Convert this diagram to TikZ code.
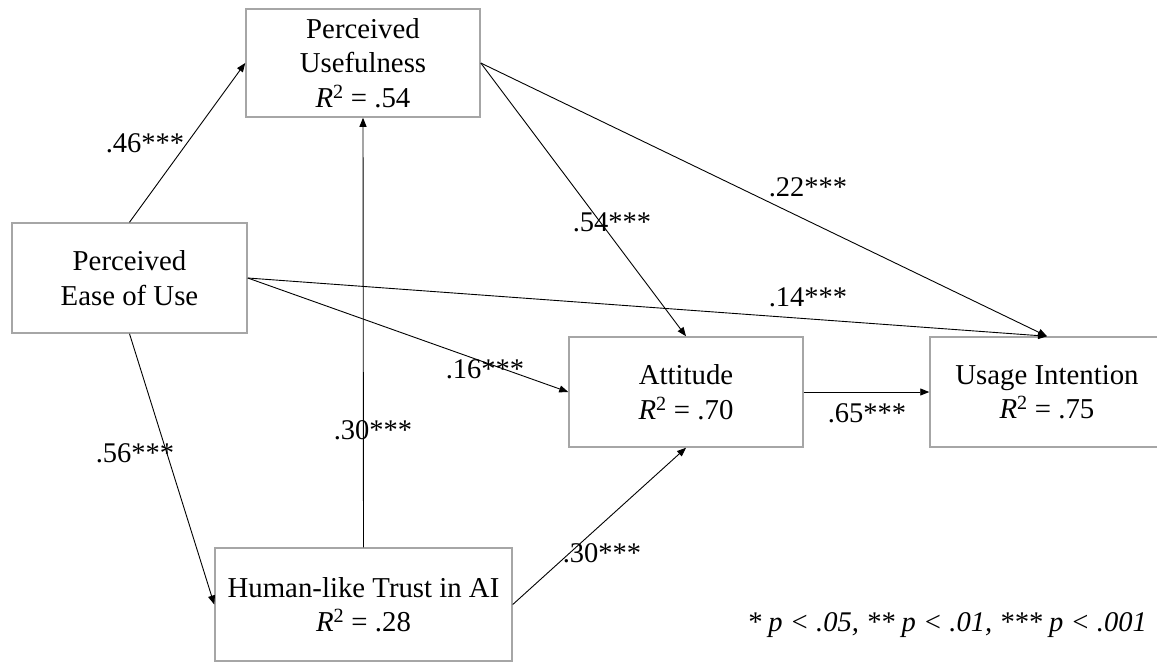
\documentclass[tikz,border=0pt]{standalone}
\usepackage{fontspec}
\setmainfont{Liberation Serif}
\usetikzlibrary{arrows.meta}
\definecolor{boxgray}{RGB}{166,166,166}
\tikzset{
  varbox/.style={draw=boxgray, line width=1.5pt, fill=white, inner sep=0pt, align=center,
    font=\fontsize{28.8}{34.5}\selectfont},
  path/.style={draw=black, line width=0.9pt, -{Triangle[length=9pt,width=7pt]}},
  coef/.style={font=\fontsize{28.5}{34}\selectfont, inner sep=0pt},
}
\newcommand{\rsq}[1]{\textit{R}\textsuperscript{2} = #1}
\begin{document}
\begin{tikzpicture}[x=1pt,y=-1pt]
\clip (0,0) rectangle (1157,662);
\fill[white] (0,0) rectangle (1157,662);
\node[varbox, minimum width=234pt, minimum height=108pt] (pu) at (363,63) {Perceived\\Usefulness\\\rsq{.54}};
\node[varbox, minimum width=235pt, minimum height=110pt] (peou) at (129.5,278) {Perceived\\Ease of Use};
\node[varbox, minimum width=234pt, minimum height=110pt] (att) at (686,392) {Attitude\\\rsq{.70}};
\node[varbox, minimum width=234pt, minimum height=110pt] (ui) at (1047,392) {Usage Intention\\\rsq{.75}};
\node[varbox, minimum width=297pt, minimum height=113pt] (ht) at (363.5,604.5) {Human-like Trust in AI\\\rsq{.28}};

\draw[path] (peou.north) -- (pu.west);
\draw[path] (peou.south) -- (ht.west);
\draw[path] (ht.north) -- (pu.south);
\draw[path] (ht.east) -- (att.south);
\draw[path] (pu.east) -- (att.north);
\draw[path] (pu.east) -- (ui.north);
\draw[path] (peou.east) -- (ui.north);
\draw[path] (peou.east) -- (att.west);
\draw[path] (att.east) -- (ui.west);

\node[coef] (c46) at (145,143) {.46***};
\node[coef] (c54) at (612,222) {.54***};
\node[coef] (c22) at (808,187) {.22***};
\node[coef] (c14) at (808,297) {.14***};
\node[coef] (c16) at (485,369) {.16***};
\node[coef] (c56) at (135,453) {.56***};
\node[coef] (c30a) at (373,430) {.30***};
\node[coef] (c30b) at (602,553) {.30***};
\node[coef] (c65) at (867,413) {.65***};

\node[coef, anchor=east] (note) at (1147,625) {\textit{* p < .05, ** p < .01, *** p < .001}};
\end{tikzpicture}
\end{document}
